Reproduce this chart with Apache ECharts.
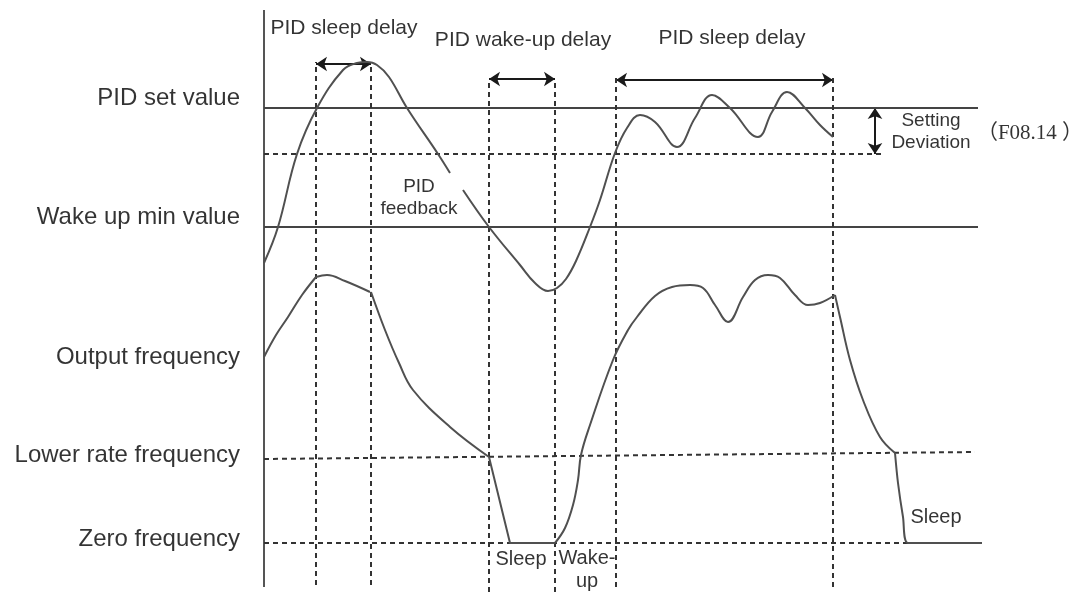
<!DOCTYPE html>
<html>
<head>
<meta charset="utf-8">
<script src="https://cdn.jsdelivr.net/npm/echarts@6/dist/echarts.min.js"></script>
<style>html,body{margin:0;padding:0;background:#fff}#c{width:1082px;height:592px}</style>
</head>
<body>
<div id="c"></div>
<script>
// Diagram units: time t (0 = vertical axis), level (0 = zero frequency)
const feedbackCurve = [[0,280],[14,316],[33,389],[53,435],[79,473],[93,480],[103,481],[113,478],[125,466],[143,435],[174,389],[186,370],null,
  [199,353],[225,316],[256,278],[271,260],[284,252],[293,255],[302,264],[312,282],[326,316],[336,343],[351,390],[363,415],[376,428],[391,421],[413,396],
  [431,425],[448,448],[466,435],[494,406],[508,431],[523,451],[541,435],[556,418],[569,406]];
const outputRise1 = [[0,186],[12,208],[24,226],[38,248],[52,266]];
const outputTop1 = [[52,266],[63,268],[81,262],[106,251]];
const outputFall1 = [[107,251],[121,213],[135,180],[149,153],[186,116],[225,86]];
const outputSleep1 = [[225,86],[246,0],[291,0]];
const outputRise2 = [[291,0],[301,15],[309,38],[314,63],[317,88],[326,118],[349,183],[364,213],[373,226],[391,247],[408,256],
  [426,258],[439,255],[451,238],[464,221],[479,246],[491,263],[504,268],[516,265],[531,248],[544,238],[556,240],[571,248]];
const outputFall2 = [[571,248],[576,226],[586,183],[599,143],[616,106],[631,90]];
const outputSleep2 = [[631,90],[634,60],[639,26],[644,0],[718,0]];
const setValueLine = [[0,435],[714,435]];
const wakeMinLine = [[0,316],[714,316]];
const deviationLine = [[0,389],[621,389]];
const lowerRateLine = [[0,84],[711,91]];
const zeroLine = [[0,0],[711,0]];
const axisLine = [[0,-44],[0,533]];
const markerTimes = [52, 107, 225, 291, 352, 569];
const markerTops = [481, 481, 464, 464, 465, 465];
const markerBottoms = [-42, -42, -49, -49, -44, -44];
const delayArrows = [[[52,479],[107,479]], [[225,464],[291,464]], [[352,463],[569,463]], [[611,435],[611,389]]];
const leftLabels = ['PID set value','Wake up min value','Output frequency','Lower rate frequency','Zero frequency'];
const leftLabelLevels = [445, 326, 186, 88, 4];
const headerLabels = ['PID sleep delay','PID wake-up delay','PID sleep delay'];
const headerPos = [[80,515],[259,503],[468,505]];
const noteLabels = ['PID\nfeedback','Setting\nDeviation','Sleep','Wake-\nup','Sleep'];
const notePos = [[155,345],[667,411],[257,-16],[323,-27],[672,26]];
const paramLabel = '（F08.14 ）';
const paramPos = [766,410];

const FONT = "'Liberation Sans', Arial, sans-serif";
const TEXT = '#000';
const curveStyle = {color:'#505050', width:2};
const solidStyle = {color:'#444', width:2};
const dashStyle = {color:'#333', width:2, type:[5,4]};

function lineSeries(data, style, smooth){
  return {type:'line', data:data, symbol:'none', smooth:smooth||false, lineStyle:style,
    silent:true, animation:false, connectNulls:false};
}
const series = [];
series.push(lineSeries(axisLine, {color:'#555', width:2}));
series.push(lineSeries(setValueLine, solidStyle));
series.push(lineSeries(wakeMinLine, solidStyle));
series.push(lineSeries(deviationLine, dashStyle));
series.push(lineSeries(lowerRateLine, dashStyle));
series.push(lineSeries(zeroLine, dashStyle));
markerTimes.forEach((t,i)=>{
  series.push(lineSeries([[t,markerBottoms[i]],[t,markerTops[i]]], dashStyle));
});
series.push(lineSeries(feedbackCurve, curveStyle, 0.4));
[outputRise1, outputTop1, outputFall1, outputRise2, outputFall2].forEach(d=>series.push(lineSeries(d, curveStyle, 0.4)));
series.push(lineSeries(outputSleep1, curveStyle, false));
series.push(lineSeries(outputSleep2, curveStyle, 0.3));
series.push({type:'lines', coordinateSystem:'cartesian2d', silent:true, animation:false,
  symbol:['arrow','arrow'], symbolSize:11,
  lineStyle:{color:'#1a1a1a', width:2, curveness:0, opacity:1},
  data: delayArrows.map(c=>({coords:c}))});

function textItem(pos, text, size, pos2, family){
  return {value:pos, label:{show:true, formatter:text, position:pos2||'inside', distance:0,
    fontSize:size, fontFamily:family||FONT, color:TEXT, lineHeight:Math.round(size*1.15), align: pos2==='left'?'right':'center'}};
}
const texts = [];
leftLabels.forEach((s,i)=>texts.push(textItem([-24,leftLabelLevels[i]], s, 24, 'left')));
headerLabels.forEach((s,i)=>texts.push(textItem(headerPos[i], s, 21)));
noteLabels.forEach((s,i)=>texts.push(textItem(notePos[i], s, i>=2 ? 20 : 19)));
texts.push(textItem(paramPos, paramLabel, 21, 'inside', "'Liberation Serif','Noto Sans CJK SC',serif"));
series.push({type:'scatter', symbolSize:0, silent:true, animation:false, data:texts, z:10});

const chart = echarts.init(document.getElementById('c'), null, {renderer:'canvas'});
chart.setOption({
  backgroundColor:'#fff',
  animation:false,
  grid:{left:0,right:0,top:0,bottom:0},
  xAxis:{type:'value', min:-264, max:818, show:false},
  yAxis:{type:'value', min:-49, max:543, show:false},
  series: series
});
</script>
</body>
</html>
